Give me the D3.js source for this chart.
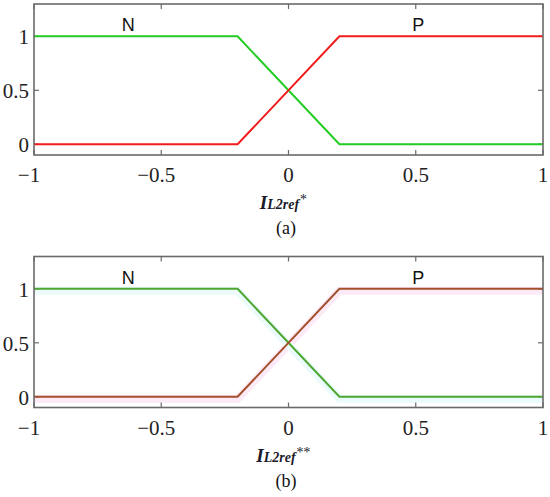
<!DOCTYPE html>
<html>
<head>
  <meta charset="utf-8">
  <title>Membership functions N / P</title>
  <script src="https://d3js.org/d3.v7.min.js"></script>
  <style>
    html, body {
      margin: 0;
      padding: 0;
      background: #fff;
    }
    svg { display: block; }
    .tick-label {
      font-family: "Liberation Serif", "Times New Roman", serif;
      font-size: 21px;
      fill: #222;
    }
    .set-label {
      font-family: "Liberation Sans", Arial, sans-serif;
      font-size: 18px;
      fill: #111;
    }
    .axis-title {
      font-family: "Liberation Serif", "Times New Roman", serif;
      font-weight: bold;
      font-style: italic;
      fill: #1a1a2a;
    }
    .caption {
      font-family: "Liberation Serif", "Times New Roman", serif;
      font-size: 18px;
      fill: #111;
    }
  </style>
</head>
<body>
  <svg width="550" height="497"></svg>

  <script>
    // membership function breakpoints
    const xPoints = [-1, -0.2, 0.2, 1];
    const nValues = [1, 1, 0, 0];   // N (green)
    const pValues = [0, 0, 1, 1];   // P (red)

    const xTicks = [-1, -0.5, 0, 0.5, 1];
    const yTicks = [0, 0.5, 1];
    const setNames = ["N", "P"];
    const setLabelX = [-0.63, 0.51];
    const captions = ["(a)", "(b)"];
    const titleStars = ["*", "**"];

    // the two panels only differ by colours and position
    const panels = [
      { top: 4, green: "#22cc22", red: "#f21c1c", halo: false },
      { top: 256.5, green: "#4ea631", red: "#a4502c", halo: true }
    ];

    const left = 34, right = 543;
    const plotH = 151;

    const svg = d3.select("svg");

    const x = d3.scaleLinear().domain([-1, 1]).range([left, right]);

    panels.forEach((p, i) => {
      const top = p.top, bottom = top + plotH;
      const y = d3.scaleLinear().domain([-0.1, 1.3]).range([bottom, top]);
      const g = svg.append("g");

      const lineGen = d3.line()
        .x((d, j) => x(xPoints[j]))
        .y(d => y(d));

      // faint coloured halo seen in panel (b)
      if (p.halo) {
        g.append("path").datum(pValues)
          .attr("d", lineGen)
          .attr("fill", "none")
          .attr("stroke", "#fdeaf7")
          .attr("stroke-width", 8)
          .attr("transform", "translate(0,2)");
        g.append("path").datum(nValues)
          .attr("d", lineGen)
          .attr("fill", "none")
          .attr("stroke", "#ebfbfb")
          .attr("stroke-width", 8)
          .attr("transform", "translate(0,2)");
      }

      // ticks inside the box (bottom/top, left/right)
      const tickLen = 5;
      xTicks.forEach(t => {
        g.append("line").attr("x1", x(t)).attr("x2", x(t))
          .attr("y1", bottom).attr("y2", bottom - tickLen)
          .attr("stroke", "#6a6a6a").attr("stroke-width", 1.2);
        g.append("line").attr("x1", x(t)).attr("x2", x(t))
          .attr("y1", top).attr("y2", top + tickLen)
          .attr("stroke", "#6a6a6a").attr("stroke-width", 1.2);
      });
      yTicks.forEach(t => {
        g.append("line").attr("x1", left).attr("x2", left + tickLen)
          .attr("y1", y(t)).attr("y2", y(t))
          .attr("stroke", "#6a6a6a").attr("stroke-width", 1.2);
        g.append("line").attr("x1", right).attr("x2", right - tickLen)
          .attr("y1", y(t)).attr("y2", y(t))
          .attr("stroke", "#6a6a6a").attr("stroke-width", 1.2);
      });

      // curves
      g.append("path").datum(nValues)
        .attr("d", lineGen)
        .attr("fill", "none")
        .attr("stroke", p.green)
        .attr("stroke-width", 2);
      g.append("path").datum(pValues)
        .attr("d", lineGen)
        .attr("fill", "none")
        .attr("stroke", p.red)
        .attr("stroke-width", 2);

      // box
      g.append("rect")
        .attr("x", left).attr("y", top)
        .attr("width", right - left).attr("height", plotH)
        .attr("fill", "none")
        .attr("stroke", "#6a6a6a")
        .attr("stroke-width", 1.6);

      // tick labels
      const fmt = d => (d < 0 ? "\u2212" : "") + d3.format("")(Math.abs(d));
      g.selectAll(".xl").data(xTicks).enter().append("text")
        .attr("class", "tick-label")
        .attr("x", d => x(d) + (d < 0 ? -5 : 0))
        .attr("y", bottom + 20)
        .attr("text-anchor", "middle")
        .attr("dominant-baseline", "central")
        .text(fmt);
      g.selectAll(".yl").data(yTicks).enter().append("text")
        .attr("class", "tick-label")
        .attr("x", left - 5)
        .attr("y", d => y(d) + 1)
        .attr("text-anchor", "end")
        .attr("dominant-baseline", "central")
        .text(fmt);

      // set names
      g.selectAll(".sl").data(setNames).enter().append("text")
        .attr("class", "set-label")
        .attr("x", (d, j) => x(setLabelX[j]))
        .attr("y", y(1) - 5)
        .attr("text-anchor", "middle")
        .text(d => d);

      // axis title I_L2ref*
      const title = g.append("text")
        .attr("class", "axis-title")
        .attr("x", 283)
        .attr("y", bottom + 54)
        .attr("text-anchor", "middle");
      title.append("tspan").attr("font-size", 19).text("I");
      title.append("tspan").attr("font-size", 14).text("L2ref");
      title.append("tspan").attr("font-size", 14).attr("dy", -5)
        .attr("font-weight", "normal").text(titleStars[i]);

      g.append("text")
        .attr("class", "caption")
        .attr("x", 286)
        .attr("y", bottom + 79)
        .attr("text-anchor", "middle")
        .text(captions[i]);
    });
  </script>
</body>
</html>
